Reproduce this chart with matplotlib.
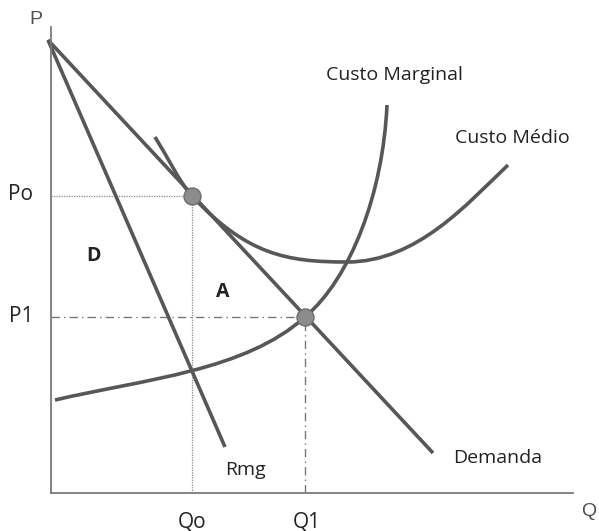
import matplotlib.pyplot as plt
from matplotlib.path import Path
from matplotlib.patches import PathPatch

# coordinates (Q to the right, P upward, origin at the axes corner)
demanda_q = [-3, 382]
demanda_p = [453, 40]
rmg_q = [-3, 174]
rmg_p = [453, 46]

# curves given as cubic Bezier control points (start, c1, c2, end, c1, c2, end, ...)
cmg_q = [4, 94, 194, 254, 300, 332, 336]
cmg_p = [93, 114, 122, 176, 215, 300, 388]

cme_q = [104, 116, 129, 141, 196, 236, 296, 366, 417, 457]
cme_p = [356, 337, 310, 297, 238, 231, 231, 231, 290, 328]

pontos_q = [141, 254]
pontos_p = [297, 176]

cor = "#575757"

fig = plt.figure(figsize=(5.99, 5.31), dpi=100)
ax = fig.add_axes([51/599, 38/531, 522/599, 466/531])
ax.set_xlim(0, 522)
ax.set_ylim(0, 466)

for s in ["top", "right"]:
    ax.spines[s].set_visible(False)
for s in ["left", "bottom"]:
    ax.spines[s].set_color("#7a7a7a")
    ax.spines[s].set_linewidth(1.3)
ax.set_xticks([])
ax.set_yticks([])

# guide lines
ax.plot([0, pontos_q[0]], [pontos_p[0], pontos_p[0]], ls=(0, (1, 1)), color="#888888", lw=0.9)
ax.plot([pontos_q[0], pontos_q[0]], [0, pontos_p[0]], ls=(0, (1, 1)), color="#888888", lw=0.9)
ax.plot([0, pontos_q[1]], [pontos_p[1], pontos_p[1]], ls=(0, (6, 3, 1, 3)), color="#777777", lw=1.0)
ax.plot([pontos_q[1], pontos_q[1]], [0, pontos_p[1]], ls=(0, (6, 3, 1, 3)), color="#777777", lw=1.0)

ax.plot(demanda_q, demanda_p, color=cor, lw=2.6, solid_capstyle="butt", clip_on=False)
ax.plot(rmg_q, rmg_p, color=cor, lw=2.6, solid_capstyle="butt", clip_on=False)


def curva(qs, ps):
    verts = list(zip(qs, ps))
    codes = [Path.MOVETO] + [Path.CURVE4] * (len(verts) - 1)
    ax.add_patch(PathPatch(Path(verts, codes), fill=False, edgecolor=cor, lw=2.6, capstyle="butt"))


curva(cmg_q, cmg_p)
curva(cme_q, cme_p)

ax.scatter(pontos_q, pontos_p, s=150, color="#8c8c8c", edgecolor="#6e6e6e", lw=1, zorder=5)

kw = dict(fontsize=14, family="Open Sans", color="#222222", va="center", ha="center")
kw1 = dict(kw, fontsize=15)
kw2 = dict(fontsize=14, family="Liberation Sans", color="#505050", va="center", ha="center")
ax.text(-15, 473, "P", clip_on=False, **kw2)
ax.text(538, -19, "Q", clip_on=False, **kw2)
ax.text(-31, 299, "Po", clip_on=False, **kw1)
ax.text(-30, 176, "P1", clip_on=False, **kw1)
ax.text(141, -29, "Qo", clip_on=False, **kw1)
ax.text(256, -29, "Q1", clip_on=False, **kw1)
ax.text(43, 237, "D", fontweight="bold", **kw)
ax.text(172, 201, "A", fontweight="bold", **kw)
ax.text(194, 23, "Rmg", **kw)
ax.text(447, 35, "Demanda", **kw)
ax.text(343, 418, "Custo Marginal", **kw)
ax.text(461, 355, "Custo Médio", **kw)

fig.savefig("out.png", dpi=100)
